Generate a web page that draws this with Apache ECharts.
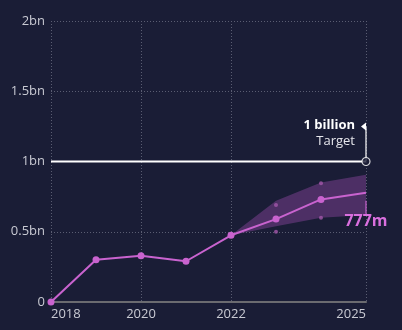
<!DOCTYPE html>
<html>
<head>
<meta charset="utf-8">
<style>
  html, body { margin: 0; padding: 0; background: #1a1d36; }
  #chart { width: 402px; height: 330px; }
</style>
<script src="https://cdn.jsdelivr.net/npm/echarts@6/dist/echarts.min.js"></script>
</head>
<body>
<div id="chart"></div>
<script>
// Users over time (billions), with projected range to 2025
const years = [2018, 2019, 2020, 2021, 2022, 2023, 2024, 2025];
const users = [0, 0.30, 0.33, 0.29, 0.475, 0.59, 0.73, 0.777];

const bandYears = [2022, 2023, 2024, 2025];
const bandLow = [0.475, 0.54, 0.60, 0.62];
const bandHigh = [0.475, 0.72, 0.85, 0.905];

const scenarioYears = [2023, 2023, 2024, 2024];
const scenarioValues = [0.69, 0.50, 0.845, 0.60];

const xTicks = [2018, 2020, 2022, 2025];
const yTicks = [0, 0.5, 1, 1.5, 2];

const target = 1;
const targetTitle = '1 billion';
const targetSub = 'Target';
const endLabel = '777m';

const FONT = 'Open Sans';
const PINK = '#c963cf';
const TEXT = '#c9cad3';

const chart = echarts.init(document.getElementById('chart'));

function fmtY(v) {
  return v === 0 ? '0' : v + 'bn';
}

chart.setOption({
  backgroundColor: '#1a1d36',
  animation: false,
  grid: { left: 51, right: 36, top: 21, bottom: 28 },
  xAxis: {
    type: 'value',
    min: 2018,
    max: 2025,
    axisLine: { show: true, lineStyle: { color: '#6b6b70', width: 2 } },
    axisTick: { show: false, customValues: xTicks },
    axisLabel: {
      customValues: xTicks,
      color: TEXT, fontFamily: FONT, fontSize: 13, margin: 6,
      alignMinLabel: 'left', alignMaxLabel: 'right',
      formatter: v => String(v)
    },
    splitLine: { show: true, lineStyle: { color: '#5a5d72', type: [1, 2], width: 1 } }
  },
  yAxis: {
    type: 'value',
    min: 0, max: 2, interval: 0.5,
    axisLine: { show: false },
    axisTick: { show: false },
    axisLabel: { color: TEXT, fontFamily: FONT, fontSize: 13, margin: 6, formatter: fmtY },
    splitLine: { show: true, lineStyle: { color: '#5a5d72', type: [1, 2], width: 1 } }
  },
  series: [
    {
      // projected range band
      type: 'custom',
      z: 1,
      data: [[0]],
      renderItem: function (params, api) {
        const pts = [];
        for (let i = 0; i < bandYears.length; i++) pts.push(api.coord([bandYears[i], bandHigh[i]]));
        for (let i = bandYears.length - 1; i >= 0; i--) pts.push(api.coord([bandYears[i], bandLow[i]]));
        return {
          type: 'polygon',
          shape: { points: pts },
          style: { fill: 'rgba(140, 70, 160, 0.45)' }
        };
      },
      silent: true
    },
    {
      // target line
      type: 'line',
      z: 3,
      data: [[2018, target], [2025, target]],
      symbol: 'none',
      lineStyle: { color: '#ffffff', width: 2 },
      silent: true
    },
    {
      // target flag pole
      type: 'line',
      z: 3,
      data: [[2025, target], [2025, 1.25]],
      symbol: 'none',
      lineStyle: { color: '#ffffff', width: 1.2 },
      silent: true
    },
    {
      type: 'scatter',
      z: 4,
      data: [[2025, target]],
      symbol: 'circle',
      symbolSize: 8,
      itemStyle: { color: '#1a1d36', borderColor: '#ffffff', borderWidth: 1.2 },
      silent: true
    },
    {
      // scenario points
      type: 'scatter',
      z: 4,
      data: scenarioYears.map((y, i) => [y, scenarioValues[i]]),
      symbolSize: 4,
      itemStyle: { color: '#a358aa' },
      silent: true
    },
    {
      type: 'line',
      z: 5,
      data: years.map((y, i) => ({
        value: [y, users[i]],
        symbolSize: i === years.length - 1 ? 0 : 7
      })),
      symbol: 'circle',
      showAllSymbol: true,
      lineStyle: { color: PINK, width: 2 },
      itemStyle: { color: PINK },
      silent: true
    }
  ]
});

// annotations placed through the grid's coordinate system
const flagTop = chart.convertToPixel({ gridIndex: 0 }, [2025, 1.25]);
const endPt = chart.convertToPixel({ gridIndex: 0 }, [2025, users[users.length - 1]]);

chart.setOption({
  graphic: [
    {
      type: 'polygon',
      shape: { points: [[flagTop[0], flagTop[1] - 4], [flagTop[0], flagTop[1] + 4], [flagTop[0] - 5, flagTop[1]]] },
      style: { fill: '#ffffff' },
      z: 10
    },
    {
      type: 'text',
      x: flagTop[0] - 11, y: flagTop[1] - 1,
      style: { text: targetTitle, fill: '#ffffff', font: 'bold 13px "' + FONT + '"', align: 'right', verticalAlign: 'middle' },
      z: 10
    },
    {
      type: 'text',
      x: flagTop[0] - 11, y: flagTop[1] + 15,
      style: { text: targetSub, fill: '#e6e6ec', font: '13px "' + FONT + '"', align: 'right', verticalAlign: 'middle' },
      z: 10
    },
    {
      type: 'line',
      shape: { x1: endPt[0], y1: endPt[1] + 8, x2: endPt[0], y2: endPt[1] + 21 },
      style: { stroke: PINK, lineWidth: 1.2 },
      z: 10
    },
    {
      type: 'text',
      x: endPt[0], y: endPt[1] + 29,
      style: { text: endLabel, fill: '#d96fde', font: 'bold 16px "' + FONT + '"', align: 'center', verticalAlign: 'middle' },
      z: 10
    }
  ]
});
</script>
</body>
</html>
